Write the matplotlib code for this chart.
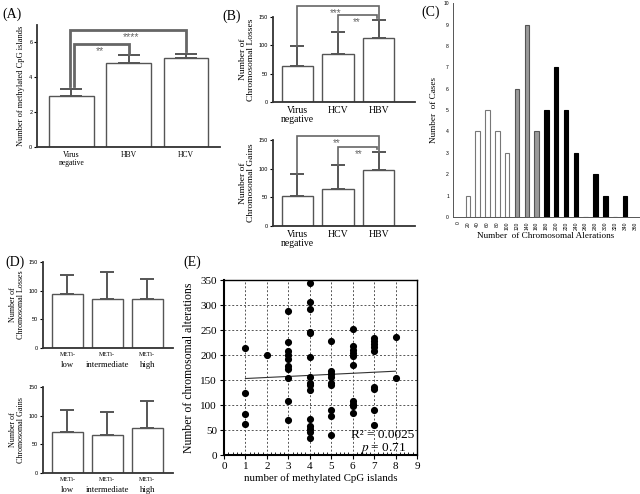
import numpy as np
import matplotlib.pyplot as plt
import matplotlib.transforms as mtransforms

plt.rcParams['font.family'] = 'Liberation Serif'
plt.rcParams['mathtext.fontset'] = 'stix'

# (A) methylated CpG islands by virus status
groups_a = ['Virus\nnegative', 'HBV', 'HCV']
cpg_mean = [2.9, 4.8, 5.1]
cpg_err = [0.4, 0.5, 0.25]

# (B) chromosomal losses / gains by virus status
groups_b = ['Virus\nnegative', 'HCV', 'HBV']
loss_mean = [63, 84, 113]
loss_err = [35, 40, 32]
gain_mean = [53, 65, 97]
gain_err = [37, 41, 33]

# (C) histogram of chromosomal alterations
alt_bins = [20, 40, 60, 80, 100, 120, 140, 160, 180, 200, 220, 240, 260, 280, 300, 320, 340]
alt_cases = [1, 4, 5, 4, 3, 6, 9, 4, 5, 7, 5, 3, 0, 2, 1, 0, 1]
alt_class = ['low'] * 5 + ['mid'] * 3 + ['high'] * 9

# (D) losses / gains by METi class
meti_groups = ['low', 'intermediate', 'high']
meti_loss_mean = [95, 85, 86]
meti_loss_err = [32, 47, 34]
meti_gain_mean = [72, 66, 79]
meti_gain_err = [38, 41, 46]

# (E) scatter: methylated CpG islands vs alterations
cpg_levels = [1, 2, 3, 4, 5, 6, 7, 8]
alterations_per_level = [
    [215, 125, 83, 63],
    [200],
    [289, 227, 208, 201, 193, 178, 172, 155, 109, 71],
    [344, 307, 293, 247, 244, 196, 157, 144, 141, 130, 73, 58, 52, 47, 35],
    [229, 168, 162, 157, 145, 140, 91, 79, 40],
    [253, 218, 211, 204, 199, 180, 108, 103, 99, 84],
    [235, 229, 223, 217, 209, 136, 132, 91, 61],
    [236, 154],
]
fit_intercept = 151.0
fit_slope = 2.1
r2_text = 'R² = 0.0025'
p_text = '$p$ = 0.71'

STAR_C = '#666666'
TICK_FONT = 'Liberation Sans'


def bar_panel(ax, labels, means, errs, ylim, yticks, capsize, xfont):
    x = np.arange(len(means))
    ax.bar(x, means, width=0.78, color='white', edgecolor='#555555', linewidth=1.0, zorder=1)
    ax.errorbar(x, means, yerr=[np.zeros(len(errs)), errs], fmt='none', ecolor='#555555',
                elinewidth=1.4, capsize=capsize, capthick=1.4, zorder=2)
    ax.set_ylim(*ylim)
    ax.set_yticks(yticks)
    for s in ['top', 'right']:
        ax.spines[s].set_visible(False)
    for s in ['left', 'bottom']:
        ax.spines[s].set_linewidth(1.3)
        ax.spines[s].set_color('#333333')
    ax.tick_params(axis='y', length=2.5, width=0.8, labelsize=4, pad=1)
    for t in ax.get_yticklabels():
        t.set_family(TICK_FONT)
    ax.tick_params(axis='x', length=0, pad=3)
    ax.set_xticks(x)
    if labels is not None:
        ax.set_xticklabels(labels, fontsize=xfont, linespacing=1.0)
    else:
        ax.set_xticklabels([])


def bracket(ax, x1, x2, y1, y2, top, stars, sx, sy, lw=1.2, fs=7):
    ax.plot([x1, x1, x2, x2], [y1, top, top, y2], color=STAR_C, lw=lw, clip_on=False,
            solid_joinstyle='miter', zorder=3)
    ax.text(sx, sy, stars, ha='center', va='top', fontsize=fs, color=STAR_C,
            family=TICK_FONT, clip_on=False)


fig = plt.figure(figsize=(6.4, 4.94), dpi=100)

# ---- (A)
ax_a = fig.add_axes([0.058, 0.7024, 0.286, 0.247])
bar_panel(ax_a, groups_a, cpg_mean, cpg_err, (0, 7), [0, 2, 4, 6], 8, 5.5)
ax_a.set_xlim(-0.6, 2.6)
ax_a.set_ylabel('Number of methylated CpG islands', fontsize=6, labelpad=3)
bracket(ax_a, -0.03, 2.0, 3.5, 5.5, 6.74, '****', 1.04, 6.62, lw=2.0, fs=7.5)
bracket(ax_a, 0.04, 1.0, 3.5, 5.35, 5.9, '**', 0.5, 5.78, lw=2.0, fs=7.5)

# ---- (B) losses
ax_b1 = fig.add_axes([0.4266, 0.7935, 0.222, 0.172])
bar_panel(ax_b1, groups_b, loss_mean, loss_err, (0, 150), [0, 50, 100, 150], 4.8, 7)
ax_b1.set_xlim(-0.6, 2.9)
ax_b1.set_ylabel('Number of\nChromosomal Losses', fontsize=6.8, labelpad=3, linespacing=1.0)
bracket(ax_b1, 0, 2, 98, 145, 169, '***', 0.94, 166)
bracket(ax_b1, 1, 1.95, 124, 148, 153, '**', 1.46, 150)

# ---- (B) gains
ax_b2 = fig.add_axes([0.4266, 0.5425, 0.222, 0.174])
bar_panel(ax_b2, groups_b, gain_mean, gain_err, (0, 150), [0, 50, 100, 150], 4.8, 7)
ax_b2.set_xlim(-0.6, 2.9)
ax_b2.set_ylabel('Number of\nChromosomal Gains', fontsize=6.8, labelpad=3, linespacing=1.0)
bracket(ax_b2, 0, 2, 90, 130, 157, '**', 0.98, 154)
bracket(ax_b2, 1, 1.95, 106, 134, 138, '**', 1.5, 135)

# ---- (C)
ax_c = fig.add_axes([0.708, 0.5607, 0.29, 0.433])
fill = {'low': 'white', 'mid': '#9a9a9a', 'high': 'black'}
edge = {'low': '#777777', 'mid': '#555555', 'high': 'black'}
ax_c.bar(alt_bins, alt_cases, width=9,
         color=[fill[c] for c in alt_class], edgecolor=[edge[c] for c in alt_class], linewidth=0.8)
ax_c.set_xlim(-10, 368)
ax_c.set_ylim(0, 10)
ax_c.set_xticks(np.arange(0, 361, 20))
ax_c.set_xticklabels([str(v) for v in np.arange(0, 361, 20)], rotation=90, fontsize=3.6,
                     family=TICK_FONT)
ax_c.set_yticks(range(0, 11))
ax_c.set_yticklabels([str(v) for v in range(0, 11)], fontsize=3.6, family=TICK_FONT)
ax_c.tick_params(length=0, pad=3)
for s in ['top', 'right']:
    ax_c.spines[s].set_visible(False)
for s in ['left', 'bottom']:
    ax_c.spines[s].set_linewidth(0.7)
    ax_c.spines[s].set_color('#555555')
ax_c.set_xlabel('Number  of Chromosomal Alerations', fontsize=6.6, labelpad=2)
ax_c.set_ylabel('Number  of Cases', fontsize=6.6, labelpad=4)

# ---- (D) losses / gains
ax_d1 = fig.add_axes([0.0672, 0.2955, 0.203, 0.174])
ax_d2 = fig.add_axes([0.0672, 0.0425, 0.203, 0.174])
for ax, means, errs, lab in [(ax_d1, meti_loss_mean, meti_loss_err, 'Chromosomal Losses'),
                             (ax_d2, meti_gain_mean, meti_gain_err, 'Chromosomal Gains')]:
    bar_panel(ax, None, means, errs, (0, 150), [0, 50, 100, 150], 4.8, 6)
    ax.set_xlim(-0.61, 2.64)
    ax.set_ylabel('Number of\n' + lab, fontsize=5.8, labelpad=3, linespacing=1.0)
    trans = mtransforms.blended_transform_factory(ax.transData, ax.transAxes)
    for i, g in enumerate(meti_groups):
        ax.text(i, -0.05, 'METi-', transform=trans, ha='center', va='top', fontsize=4.3)
        ax.text(i, -0.15, g, transform=trans, ha='center', va='top', fontsize=6.2)

# ---- (E)
ax_e = fig.add_axes([0.35, 0.0789, 0.3016, 0.354])
xs = np.concatenate([[lv] * len(vals) for lv, vals in zip(cpg_levels, alterations_per_level)])
ys = np.concatenate(alterations_per_level)
ax_e.scatter(xs, ys, s=17, color='black', zorder=3)
line_x = np.array([cpg_levels[0], cpg_levels[-1]])
ax_e.plot(line_x, fit_intercept + fit_slope * line_x, color='#333333', lw=0.8, zorder=2)
ax_e.set_xlim(0, 9)
ax_e.set_ylim(0, 350)
ax_e.set_xticks(range(0, 10))
ax_e.set_yticks(range(0, 351, 50))
ax_e.set_xticks(np.arange(0, 9.01, 0.2), minor=True)
ax_e.grid(True, which='major', linestyle=(0, (2, 2)), color='#555555', linewidth=0.7)
ax_e.tick_params(which='major', labelsize=8, length=3, direction='out', pad=2)
ax_e.tick_params(which='minor', axis='x', length=2, direction='in')
for s in ax_e.spines.values():
    s.set_linewidth(1.0)
ax_e.spines['left'].set_linewidth(1.5)
ax_e.spines['bottom'].set_linewidth(1.5)
ax_e.set_xlabel('number of methylated CpG islands', fontsize=7.8, labelpad=2)
ax_e.set_ylabel('Number of chromosomal alterations', fontsize=8.5, labelpad=4)
ax_e.text(0.824, 0.112, r2_text, transform=ax_e.transAxes, ha='center', va='center', fontsize=9.5)
ax_e.text(0.824, 0.038, p_text, transform=ax_e.transAxes, ha='center', va='center', fontsize=9.5)

# panel letters
for lab, x, y in [('(A)', 0.003, 14), ('(B)', 0.347, 16), ('(C)', 0.659, 12),
                  ('(D)', 0.008, 262), ('(E)', 0.286, 262)]:
    fig.text(x, 1 - y / 494, lab, fontsize=10, va='center', ha='left')

fig.savefig('out.png', dpi=100, facecolor='white')
